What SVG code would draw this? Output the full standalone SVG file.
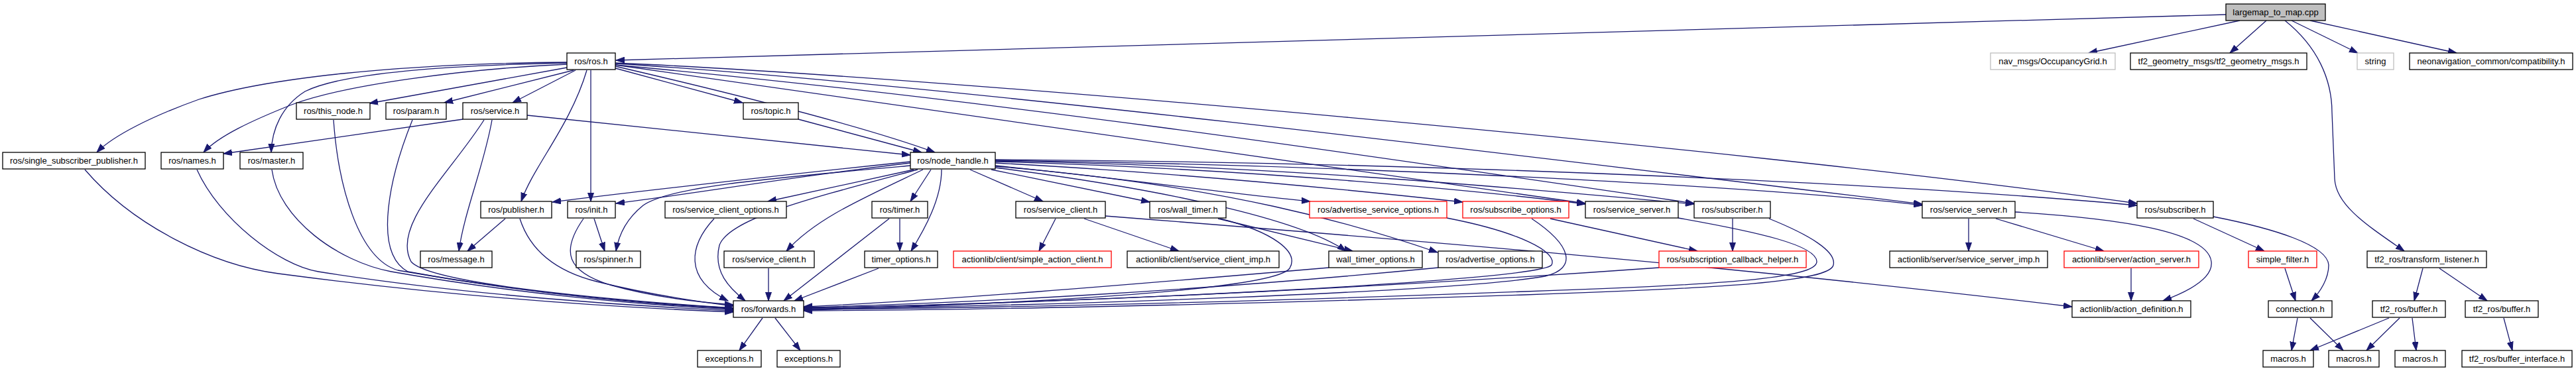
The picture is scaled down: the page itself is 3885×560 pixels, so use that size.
<svg xmlns="http://www.w3.org/2000/svg" width="3885" height="560" viewBox="0 0 3885 560">
<defs>
<style>
.nd rect{fill:#fff;stroke:#000;stroke-width:1.3}
.nd.gr rect{stroke:#bfbfbf}
.nd.rd rect{stroke:#ff0000}
.nd.root rect{fill:#bfbfbf}
.nd text{font-family:"Liberation Sans",Arial,sans-serif;font-size:13px;text-anchor:middle;fill:#000}
#edges path{fill:none;stroke:#191970;stroke-width:1.3;marker-end:url(#a)}
</style>
<marker id="a" markerUnits="userSpaceOnUse" markerWidth="14" markerHeight="10" viewBox="0 0 14 10" refX="13" refY="5" orient="auto">
<path d="M0,0.5 L13,5 L0,9.5 z" fill="#191970" stroke="#191970" stroke-width="1"/>
</marker>
</defs>
<rect width="3885" height="560" fill="#fff"/>
<g id="edges">
<path d="M3357,22 L929,91"/>
<path d="M3378,31 L3150,80"/>
<path d="M3418,31 L3363,80"/>
<path d="M3456,31 L3556,80"/>
<path d="M3484,31 L3705,80"/>
<path d="M3446,31 C3495,70 3517,120 3517,170 L3521,270 C3523,310 3570,340 3626,379"/>
<path d="M855,94 C600,96 400,118 300,150 C230,175 170,205 146,230"/>
<path d="M855,97 C700,104 520,128 440,158 C380,182 330,205 307,230"/>
<path d="M855,95 C700,98 520,108 460,138 C425,160 410,195 409,230"/>
<path d="M855,102 L557,156"/>
<path d="M865,106 L670,155"/>
<path d="M868,106 L773,155"/>
<path d="M885,106 C860,190 805,250 786,304"/>
<path d="M891,106 L891,304"/>
<path d="M928,103 L1120,155"/>
<path d="M928,100 C1100,140 1300,190 1410,230"/>
<path d="M928,98 L2391,307"/>
<path d="M928,98 C1500,150 2100,240 2555,307"/>
<path d="M928,96 C1400,125 2300,235 2899,308"/>
<path d="M928,95 C1400,115 2600,220 3223,307"/>
<path d="M1373,244 C1200,262 950,290 833,305"/>
<path d="M1373,246 C1200,266 1050,292 929,307"/>
<path d="M1373,250 C1150,270 1010,282 970,310 C945,330 933,355 929,379"/>
<path d="M1378,256 L1158,304"/>
<path d="M1384,256 C1220,300 1100,330 1085,370 C1075,410 1100,435 1124,454"/>
<path d="M1392,256 C1300,300 1230,330 1186,379"/>
<path d="M1404,256 L1373,304"/>
<path d="M1420,256 C1420,300 1395,345 1374,379"/>
<path d="M1463,256 L1573,304"/>
<path d="M1495,256 L1734,305"/>
<path d="M1501,250 C1700,270 1850,292 1976,304"/>
<path d="M1501,246 C1800,262 2050,288 2206,305"/>
<path d="M1501,244 C1900,255 2250,290 2391,308"/>
<path d="M1501,243 C1950,250 2350,290 2555,308"/>
<path d="M1501,242 C2100,250 2700,285 2899,310"/>
<path d="M1501,241 C2200,245 2900,280 3223,310"/>
<path d="M1501,253 C1750,285 1960,330 2030,379"/>
<path d="M1501,251 C1850,280 2050,340 2168,381"/>
<path d="M795,174 L1373,234"/>
<path d="M1204,180 L1390,230"/>
<path d="M698,180 L337,232"/>
<path d="M742,181 C730,250 700,320 692,379"/>
<path d="M730,181 C680,260 590,340 620,395 C650,430 950,455 1106,465"/>
<path d="M762,330 L705,379"/>
<path d="M784,330 C800,380 840,410 900,425 C980,445 1050,455 1106,462"/>
<path d="M896,330 L912,379"/>
<path d="M880,330 C845,380 855,410 920,430 C980,447 1050,456 1106,460"/>
<path d="M128,256 C200,340 320,400 420,413 C700,450 950,465 1106,471"/>
<path d="M297,256 C330,330 420,400 480,410 C700,445 950,462 1106,469"/>
<path d="M410,256 C420,330 510,395 590,410 C760,440 950,460 1106,467"/>
<path d="M503,181 C510,280 540,390 600,408 C780,440 950,458 1106,466"/>
<path d="M622,181 C590,260 560,380 615,410 C780,440 950,457 1106,465"/>
<path d="M1077,330 C1040,370 1030,420 1098,454"/>
<path d="M1159,405 L1159,454"/>
<path d="M1341,330 L1182,454"/>
<path d="M1357,330 L1357,379"/>
<path d="M1325,405 L1198,454"/>
<path d="M1592,330 L1567,379"/>
<path d="M1635,330 L1778,379"/>
<path d="M1667,326 C2100,360 2600,400 3125,463"/>
<path d="M1837,330 L2040,379"/>
<path d="M1840,330 C1920,350 1960,380 1945,405 C1920,440 1500,460 1212,468"/>
<path d="M2004,404 C1700,430 1400,455 1212,463"/>
<path d="M2169,404 C1800,440 1450,458 1212,464"/>
<path d="M2182,329 C2290,350 2350,380 2340,400 C2320,425 1600,458 1212,465"/>
<path d="M2310,330 C2370,370 2380,405 2330,417 C2200,440 1600,462 1212,466"/>
<path d="M2338,330 L2560,379"/>
<path d="M2531,329 C2650,350 2740,370 2740,395 C2740,420 2600,430 2300,440 C1900,455 1500,465 1212,467"/>
<path d="M2613,330 L2613,379"/>
<path d="M2668,330 C2730,355 2770,380 2765,400 C2760,425 2600,435 2300,445 C1900,458 1500,468 1212,469"/>
<path d="M2502,404 C2000,440 1500,460 1212,465"/>
<path d="M2969,330 L2969,379"/>
<path d="M3010,330 L3173,379"/>
<path d="M3039,320 C3200,330 3330,350 3335,395 C3338,420 3300,440 3262,454"/>
<path d="M3308,330 L3415,379"/>
<path d="M3338,327 C3430,345 3510,370 3512,400 C3512,420 3500,440 3486,454"/>
<path d="M3446,405 L3462,454"/>
<path d="M3214,405 L3214,454"/>
<path d="M3654,405 L3641,454"/>
<path d="M3679,405 L3751,454"/>
<path d="M3465,480 L3456,529"/>
<path d="M3484,480 L3534,529"/>
<path d="M3603,480 L3484,529"/>
<path d="M3619,480 L3569,529"/>
<path d="M3638,480 L3644,529"/>
<path d="M3776,480 L3789,529"/>
<path d="M1150,480 L1115,529"/>
<path d="M1169,480 L1207,529"/>
</g>
<g id="n0" class="nd root"><rect x="3357" y="6" width="150" height="25"/><text x="3432" y="23">largemap_to_map.cpp</text></g>
<g id="n1" class="nd"><rect x="855" y="80" width="73" height="25"/><text x="891.5" y="97">ros/ros.h</text></g>
<g id="n2" class="nd gr"><rect x="3002" y="80" width="188" height="25"/><text x="3096" y="97">nav_msgs/OccupancyGrid.h</text></g>
<g id="n3" class="nd"><rect x="3213" y="80" width="266" height="25"/><text x="3346" y="97">tf2_geometry_msgs/tf2_geometry_msgs.h</text></g>
<g id="n4" class="nd gr"><rect x="3555" y="80" width="55" height="25"/><text x="3582.5" y="97">string</text></g>
<g id="n5" class="nd"><rect x="3634" y="80" width="246" height="25"/><text x="3757" y="97">neonavigation_common/compatibility.h</text></g>
<g id="n6" class="nd"><rect x="447" y="155" width="111" height="25"/><text x="502.5" y="172">ros/this_node.h</text></g>
<g id="n7" class="nd"><rect x="582" y="155" width="91" height="25"/><text x="627.5" y="172">ros/param.h</text></g>
<g id="n8" class="nd"><rect x="698" y="155" width="97" height="25"/><text x="746.5" y="172">ros/service.h</text></g>
<g id="n9" class="nd"><rect x="1121" y="155" width="83" height="25"/><text x="1162.5" y="172">ros/topic.h</text></g>
<g id="n10" class="nd"><rect x="4" y="230" width="215" height="25"/><text x="111.5" y="247">ros/single_subscriber_publisher.h</text></g>
<g id="n11" class="nd"><rect x="243" y="230" width="94" height="25"/><text x="290" y="247">ros/names.h</text></g>
<g id="n12" class="nd"><rect x="362" y="230" width="95" height="25"/><text x="409.5" y="247">ros/master.h</text></g>
<g id="n13" class="nd"><rect x="1373" y="230" width="128" height="25"/><text x="1437" y="247">ros/node_handle.h</text></g>
<g id="n14" class="nd"><rect x="725" y="304" width="107" height="25"/><text x="778.5" y="321">ros/publisher.h</text></g>
<g id="n15" class="nd"><rect x="856" y="304" width="72" height="25"/><text x="892" y="321">ros/init.h</text></g>
<g id="n16" class="nd"><rect x="1003" y="304" width="183" height="25"/><text x="1094.5" y="321">ros/service_client_options.h</text></g>
<g id="n17" class="nd"><rect x="1315" y="304" width="84" height="25"/><text x="1357" y="321">ros/timer.h</text></g>
<g id="n18" class="nd"><rect x="1532" y="304" width="135" height="25"/><text x="1599.5" y="321">ros/service_client.h</text></g>
<g id="n19" class="nd"><rect x="1734" y="304" width="115" height="25"/><text x="1791.5" y="321">ros/wall_timer.h</text></g>
<g id="n20" class="nd rd"><rect x="1975" y="304" width="207" height="25"/><text x="2078.5" y="321">ros/advertise_service_options.h</text></g>
<g id="n21" class="nd rd"><rect x="2206" y="304" width="160" height="25"/><text x="2286" y="321">ros/subscribe_options.h</text></g>
<g id="n22" class="nd"><rect x="2391" y="304" width="140" height="25"/><text x="2461" y="321">ros/service_server.h</text></g>
<g id="n23" class="nd"><rect x="2555" y="304" width="115" height="25"/><text x="2612.5" y="321">ros/subscriber.h</text></g>
<g id="n24" class="nd"><rect x="2899" y="304" width="140" height="25"/><text x="2969" y="321">ros/service_server.h</text></g>
<g id="n25" class="nd"><rect x="3223" y="304" width="115" height="25"/><text x="3280.5" y="321">ros/subscriber.h</text></g>
<g id="n26" class="nd"><rect x="634" y="379" width="108" height="25"/><text x="688" y="396">ros/message.h</text></g>
<g id="n27" class="nd"><rect x="869" y="379" width="97" height="25"/><text x="917.5" y="396">ros/spinner.h</text></g>
<g id="n28" class="nd"><rect x="1092" y="379" width="136" height="25"/><text x="1160" y="396">ros/service_client.h</text></g>
<g id="n29" class="nd"><rect x="1304" y="379" width="110" height="25"/><text x="1359" y="396">timer_options.h</text></g>
<g id="n30" class="nd rd"><rect x="1438" y="379" width="238" height="25"/><text x="1557" y="396">actionlib/client/simple_action_client.h</text></g>
<g id="n31" class="nd"><rect x="1700" y="379" width="229" height="25"/><text x="1814.5" y="396">actionlib/client/service_client_imp.h</text></g>
<g id="n32" class="nd"><rect x="2004" y="379" width="141" height="25"/><text x="2074.5" y="396">wall_timer_options.h</text></g>
<g id="n33" class="nd"><rect x="2169" y="379" width="157" height="25"/><text x="2247.5" y="396">ros/advertise_options.h</text></g>
<g id="n34" class="nd rd"><rect x="2502" y="379" width="222" height="25"/><text x="2613" y="396">ros/subscription_callback_helper.h</text></g>
<g id="n35" class="nd"><rect x="2850" y="379" width="238" height="25"/><text x="2969" y="396">actionlib/server/service_server_imp.h</text></g>
<g id="n36" class="nd rd"><rect x="3113" y="379" width="203" height="25"/><text x="3214.5" y="396">actionlib/server/action_server.h</text></g>
<g id="n37" class="nd rd"><rect x="3391" y="379" width="103" height="25"/><text x="3442.5" y="396">simple_filter.h</text></g>
<g id="n38" class="nd"><rect x="3570" y="379" width="180" height="25"/><text x="3660" y="396">tf2_ros/transform_listener.h</text></g>
<g id="n39" class="nd"><rect x="1106" y="454" width="106" height="25"/><text x="1159" y="471">ros/forwards.h</text></g>
<g id="n40" class="nd"><rect x="3125" y="454" width="179" height="25"/><text x="3214.5" y="471">actionlib/action_definition.h</text></g>
<g id="n41" class="nd"><rect x="3421" y="454" width="96" height="25"/><text x="3469" y="471">connection.h</text></g>
<g id="n42" class="nd"><rect x="3578" y="454" width="110" height="25"/><text x="3633" y="471">tf2_ros/buffer.h</text></g>
<g id="n43" class="nd"><rect x="3718" y="454" width="110" height="25"/><text x="3773" y="471">tf2_ros/buffer.h</text></g>
<g id="n44" class="nd"><rect x="1052" y="529" width="96" height="25"/><text x="1100" y="546">exceptions.h</text></g>
<g id="n45" class="nd"><rect x="1172" y="529" width="95" height="25"/><text x="1219.5" y="546">exceptions.h</text></g>
<g id="n46" class="nd"><rect x="3413" y="529" width="76" height="25"/><text x="3451" y="546">macros.h</text></g>
<g id="n47" class="nd"><rect x="3512" y="529" width="76" height="25"/><text x="3550" y="546">macros.h</text></g>
<g id="n48" class="nd"><rect x="3612" y="529" width="76" height="25"/><text x="3650" y="546">macros.h</text></g>
<g id="n49" class="nd"><rect x="3713" y="529" width="166" height="25"/><text x="3796" y="546">tf2_ros/buffer_interface.h</text></g>
</svg>
